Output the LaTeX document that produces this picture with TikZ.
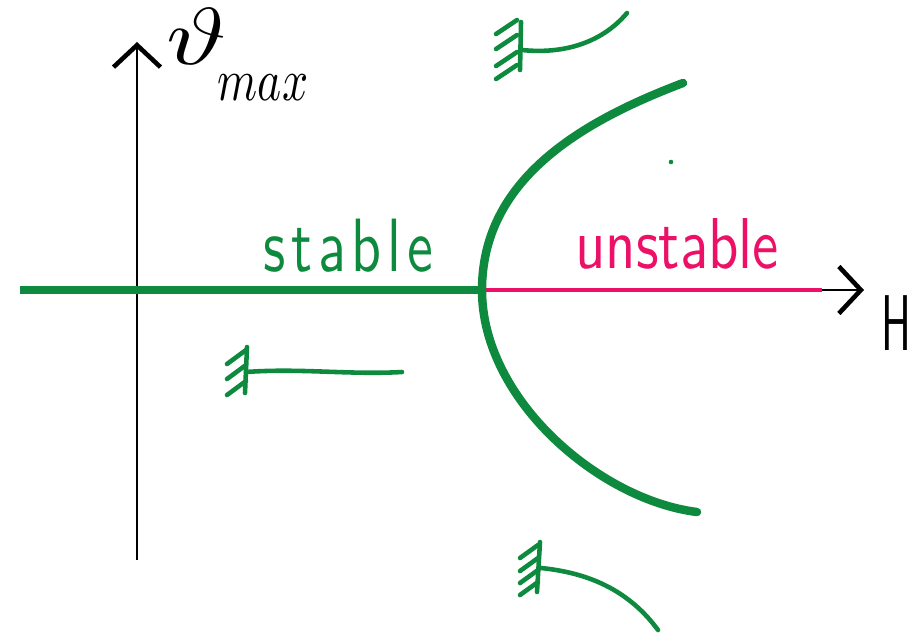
\documentclass[tikz,border=0pt]{standalone}
\usepackage{fontspec}
\usepackage{xcolor}
\definecolor{cGreen}{HTML}{0E8A3E}
\definecolor{cPink}{HTML}{EC1066}
\usepackage{tikz}
\usetikzlibrary{arrows.meta}
\tikzset{
  axis-line/.style={line width=1.5pt,draw=black,
    -{Straight Barb[length=4.4mm,width=9.4mm,line width=2.6pt]}},
  branch-stable/.style={line width=4pt,draw=cGreen},
  branch-unstable/.style={line width=1.8pt,draw=cPink},
  branch-curve/.style={line width=4.8pt,draw=cGreen,line cap=round},
  wall-line/.style={line width=2.6pt,draw=cGreen,line cap=round},
  label-hand/.style={inner sep=0pt,anchor=base west,font=\sffamily},
}

\begin{document}
\begin{tikzpicture}[x=0.02cm,y=-0.02cm]
  \useasboundingbox (0,0) rectangle (922,636);
  % axes
  \coordinate (h-start) at (20,290);
  \coordinate (h-end) at (864,290);
  \coordinate (v-start) at (137,560);
  \coordinate (v-end) at (137,42);
  \draw[axis-line] (h-start) -- (h-end);
  \draw[axis-line,line width=1.2pt] (v-start) -- (v-end);
  \node[inner sep=0pt,anchor=base west] (theta-label) at (166,64)
    {\scalebox{5.8}[4.6]{$\vartheta$}\kern-5pt%
     \raisebox{-20.5pt}{\scalebox{2.6}[3.4]{$max$}}};
  \node[label-hand,anchor=base] (h-label) at (896,350)
    {\scalebox{2.4}[4.5]{H}};

  % branches
  \coordinate (vertex) at (482,290);
  \coordinate (unstab-end) at (822,290);
  \coordinate (upper) at (683,83);
  \coordinate (lower) at (697,512);
  \draw[branch-stable] (h-start) -- (vertex);
  \draw[branch-unstable] (vertex) -- (unstab-end);
  \draw[branch-curve] (upper) .. controls (580,122) and (482,180) .. (vertex)
    .. controls (482,400) and (600,500) .. (lower);
  \fill[cGreen] (671,162) circle (1.3pt);
  \node[label-hand,text=cGreen] (stable) at (263,271)
    {\scalebox{3.3}[4.3]{s\kern1pt t\kern1pt a\kern1pt b\kern1pt l\kern1pt e}};
  \node[label-hand,text=cPink] (unstable) at (575,268)
    {\scalebox{3.35}[4.1]{unstable}};

  % hatched walls
  \draw[wall-line] (521,22) -- (520,70);
  \foreach \y in {20,35,52,65}
    \draw[wall-line] (496,{\y+14}) -- (517,\y);
  \draw[wall-line] (522,50) .. controls (560,54) and (600,45) .. (627,13);

  \draw[wall-line] (247,347) -- (245,393);
  \foreach \y in {350,365,381}
    \draw[wall-line] (227,{\y+14}) -- (246,\y);
  \draw[wall-line] (246,372) .. controls (300,368) and (350,375) .. (402,372);

  \draw[wall-line] (540,542) -- (537,592);
  \foreach \y in {545,558,570,582}
    \draw[wall-line] (520,{\y+13}) -- (538,\y);
  \draw[wall-line] (541,568) .. controls (580,572) and (625,585) .. (658,630);
\end{tikzpicture}
\end{document}
